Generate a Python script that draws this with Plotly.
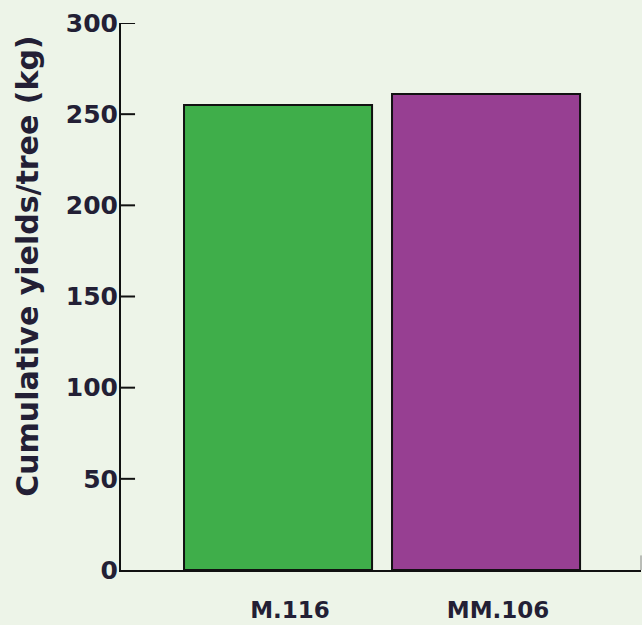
import plotly.graph_objects as go

categories = ["M.116", "MM.106"]
values = [255, 261]
colors = ["#3fae4a", "#973f92"]
y_ticks = [0, 50, 100, 150, 200, 250, 300]
y_title = "Cumulative yields/tree (kg)"

bg = "#edf4e8"
txt = "#231f35"
fnt = "DejaVu Sans"

fig = go.Figure(go.Bar(
    x=categories, y=values,
    marker=dict(color=colors, line=dict(color="#111111", width=2)),
    width=0.904,
))

fig.update_layout(
    width=642, height=625,
    paper_bgcolor=bg, plot_bgcolor=bg,
    margin=dict(l=121, r=1, t=23, b=55),
    showlegend=False,
    font=dict(family=fnt, color=txt),
)
fig.update_xaxes(
    range=[-0.755, 1.745],
    showline=True, linecolor="#111111", linewidth=2,
    ticks="", showgrid=False, zeroline=False,
    tickfont=dict(size=23, family=fnt, weight="bold", color=txt),
    ticklabelstandoff=18, ticklabelshift=12,
)
fig.update_yaxes(
    range=[0, 300],
    tickmode="array", tickvals=y_ticks,
    showline=True, linecolor="#111111", linewidth=2,
    ticks="", showgrid=False, zeroline=False,
    tickfont=dict(size=25, family=fnt, weight="bold", color=txt),
    ticklabelstandoff=-4,
)
# inside tick marks on the y axis
for v in y_ticks[1:]:
    fig.add_shape(type="line", xref="paper", yref="y", x0=0, x1=0.027, y0=v, y1=v,
                  line=dict(color="#111111", width=2), layer="above")
fig.add_annotation(
    text=y_title, textangle=-90, xref="paper", yref="paper",
    x=-0.179, y=0.556, xanchor="center", yanchor="middle", showarrow=False,
    font=dict(size=30, family=fnt, weight="bold", color=txt),
)
fig.add_shape(type="line", xref="paper", yref="y", x0=1, x1=1, y0=0, y1=8,
              line=dict(color="#888888", width=1))

fig.write_html(
    "out.html",
    config={"displayModeBar": False},
    post_script="document.body.style.margin='0';document.body.style.background='%s';" % bg,
)
